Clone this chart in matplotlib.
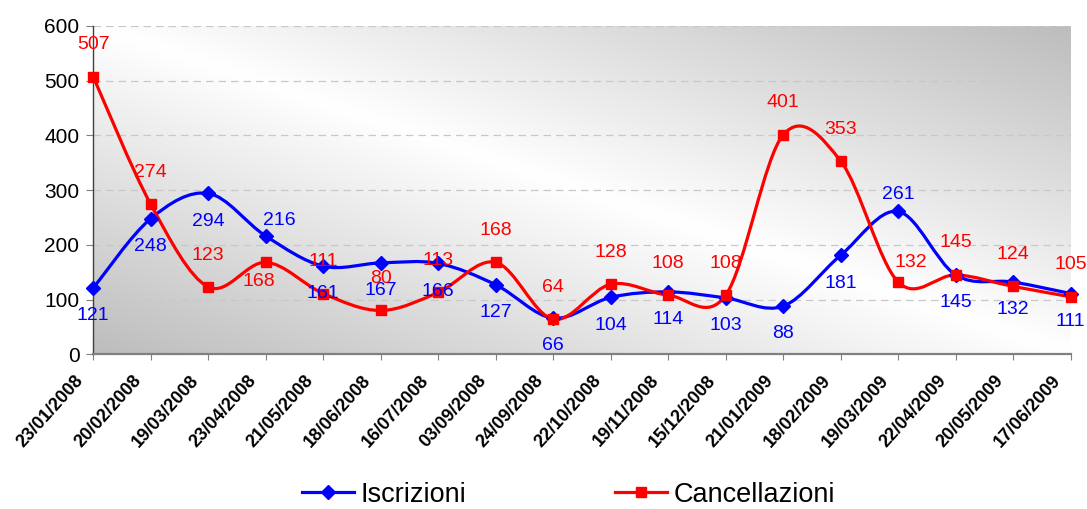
import numpy as np
import matplotlib
matplotlib.use('Agg')
import matplotlib.pyplot as plt
from matplotlib.path import Path
from matplotlib.patches import PathPatch
from matplotlib.lines import Line2D
import matplotlib.transforms as mtransforms

plt.rcParams['font.family'] = ['Liberation Sans', 'DejaVu Sans']

# dati
date = ['23/01/2008', '20/02/2008', '19/03/2008', '23/04/2008', '21/05/2008',
        '18/06/2008', '16/07/2008', '03/09/2008', '24/09/2008', '22/10/2008',
        '19/11/2008', '15/12/2008', '21/01/2009', '18/02/2009', '19/03/2009',
        '22/04/2009', '20/05/2009', '17/06/2009']
iscrizioni = [121, 248, 294, 216, 161, 167, 166, 127, 66, 104, 114, 103, 88, 181, 261, 145, 132, 111]
cancellazioni = [507, 274, 123, 168, 111, 80, 113, 168, 64, 128, 108, 108, 401, 353, 132, 145, 124, 105]

# spostamento etichette (punti)
off_isc = [(0, -20)] * len(date)
off_isc[3] = (10, 11)
off_isc[14] = (0, 12)
off_can = [(0, 23)] * len(date)
off_can[3] = (-5, -14)
off_can[14] = (9, 14)

BLU = '#0000ff'
ROSSO = '#ff0000'


def curva(xs, ys):
    # curva liscia stile Excel (bezier)
    pts = np.column_stack([xs, ys]).astype(float)
    n = len(pts)
    verts = [pts[0]]
    codes = [Path.MOVETO]
    for i in range(n - 1):
        p0 = pts[i - 1] if i > 0 else pts[i]
        p1 = pts[i]
        p2 = pts[i + 1]
        p3 = pts[i + 2] if i + 2 < n else pts[i + 1]
        verts += [p1 + (p2 - p0) / 6, p2 - (p3 - p1) / 6, p2]
        codes += [Path.CURVE4] * 3
    return Path(verts, codes)


fig = plt.figure(figsize=(10.87, 5.09), dpi=100)
ax = fig.add_axes([0.0858, 0.304, 0.8992, 0.645])

# sfondo sfumato
u, v = np.meshgrid(np.linspace(0, 1, 400), np.linspace(0, 1, 200))
t = np.abs(u + v - 1)
g = 1.0 - 0.26 * t
img = np.dstack([g, g, g])
ax.imshow(img, extent=[0, 1, 0, 1], transform=ax.transAxes, origin='lower',
          aspect='auto', zorder=0, interpolation='bilinear')

x = np.arange(len(date))
ax.set_xlim(0, len(date) - 1)
ax.set_ylim(0, 600)

for vals, col, mk, ms in [(iscrizioni, BLU, 'D', 7), (cancellazioni, ROSSO, 's', 7.5)]:
    ax.add_patch(PathPatch(curva(x, vals), facecolor='none', edgecolor=col,
                           lw=2.3, zorder=3, clip_on=False, capstyle='round'))
    ax.plot(x, vals, linestyle='none', marker=mk, color=col, ms=ms, zorder=4, clip_on=False)

for i in range(len(date)):
    ax.annotate(str(iscrizioni[i]), (x[i], iscrizioni[i]), xytext=off_isc[i],
                textcoords='offset points', ha='center', va='center',
                color=BLU, fontsize=14, zorder=5, annotation_clip=False)
    ax.annotate(str(cancellazioni[i]), (x[i], cancellazioni[i]), xytext=off_can[i],
                textcoords='offset points', ha='center', va='center',
                color=ROSSO, fontsize=14, zorder=5, annotation_clip=False)

ax.set_yticks(range(0, 601, 100))
ax.tick_params(axis='y', labelsize=15, length=5, color='#808080', pad=5)
ax.grid(axis='y', linestyle=(0, (6, 4)), color='#c8c8c8', linewidth=0.9, zorder=1)
ax.set_axisbelow(True)

ax.set_xticks(x)
ax.set_xticklabels(date, rotation=48, ha='right', fontsize=13, fontweight='bold')
ax.tick_params(axis='x', length=4, color='#808080', pad=9)
sposta = mtransforms.ScaledTranslation(-6 / 100, 0, fig.dpi_scale_trans)
for lab in ax.get_xticklabels():
    lab.set_transform(lab.get_transform() + sposta)

for s in ['top', 'right']:
    ax.spines[s].set_visible(False)
ax.spines['left'].set_color('#404040')
ax.spines['left'].set_linewidth(1)
ax.spines['bottom'].set_color('#808080')
ax.spines['bottom'].set_linewidth(1.6)

maniglie = [Line2D([0], [0], color=BLU, lw=2.3, marker='D', ms=7),
            Line2D([0], [0], color=ROSSO, lw=2.3, marker='s', ms=7.5)]
fig.legend(maniglie, ['Iscrizioni', 'Cancellazioni'], loc='center',
           bbox_to_anchor=(0.523, 0.028), ncol=2, frameon=False, fontsize=19.5,
           handlelength=1.9, handletextpad=0.25, columnspacing=5.5)

fig.savefig('out.png', dpi=100)
